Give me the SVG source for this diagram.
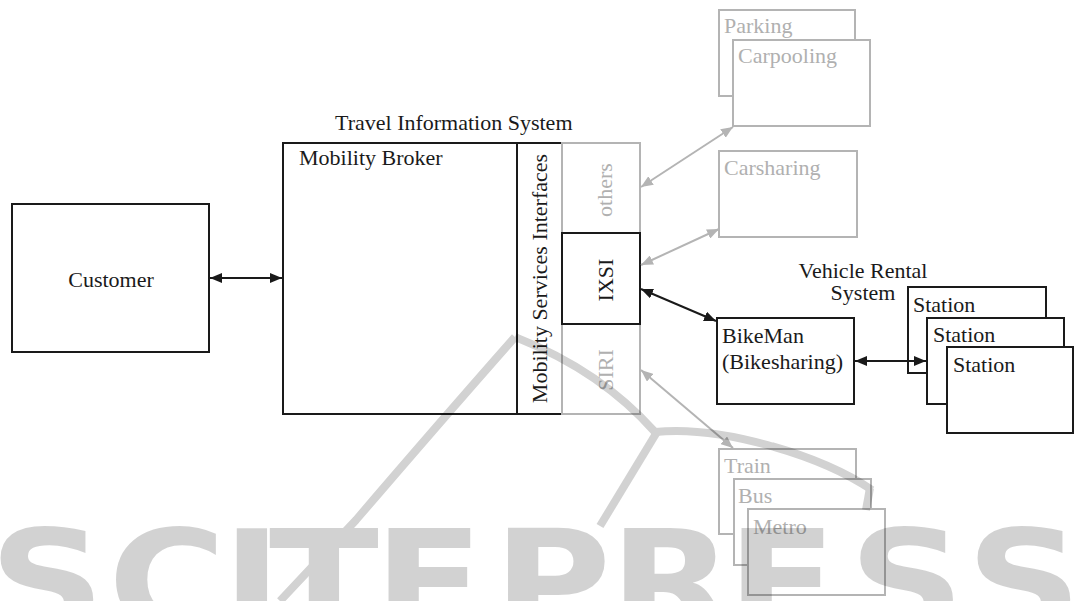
<svg xmlns="http://www.w3.org/2000/svg" width="1074" height="601" viewBox="0 0 1074 601">
  <style>
    .box { fill: #ffffff; stroke: #1a1a1a; stroke-width: 2; }
    .gbox { fill: #ffffff; stroke: #b4b4b4; stroke-width: 2; }
    .open { fill: none; }
    .t { font-family: "Liberation Serif", "Times New Roman", serif; font-size: 22px; fill: #1a1a1a; }
    .gt { font-family: "Liberation Serif", "Times New Roman", serif; font-size: 22px; fill: #b0b0b0; }
    .mid { text-anchor: middle; }
    .link { stroke: #1a1a1a; stroke-width: 2; fill: none; marker-start: url(#headB); marker-end: url(#headB); }
    .glink { stroke: #b4b4b4; stroke-width: 2; fill: none; marker-start: url(#headG); marker-end: url(#headG); }
  </style>
  <defs>
    <marker id="headB" viewBox="0 0 12 10" refX="12" refY="5" markerWidth="12" markerHeight="10" markerUnits="userSpaceOnUse" orient="auto-start-reverse">
      <path d="M0,0 L12,5 L0,10 z" fill="#1a1a1a"/>
    </marker>
    <marker id="headG" viewBox="0 0 12 10" refX="12" refY="5" markerWidth="12" markerHeight="10" markerUnits="userSpaceOnUse" orient="auto-start-reverse">
      <path d="M0,0 L12,5 L0,10 z" fill="#b4b4b4"/>
    </marker>
  </defs>

  <rect width="1074" height="601" fill="#ffffff"/>

  <!-- customer -->
  <g id="customer">
    <rect class="box" x="12" y="204" width="197" height="148"/>
    <text class="t mid" x="111" y="287">Customer</text>
  </g>

  <!-- travel information system -->
  <g id="travel-information-system">
    <text class="t" x="335" y="130">Travel Information System</text>
  </g>
  <g id="mobility-broker">
    <rect class="box" x="283" y="143" width="234" height="271"/>
    <text class="t" x="299" y="165">Mobility Broker</text>
  </g>
  <g id="interfaces">
    <rect class="box" x="517" y="143" width="45" height="271"/>
    <text class="t mid" transform="translate(547,278.5) rotate(-90)">Mobility Services Interfaces</text>
  </g>
  <g id="interface-slots">
    <rect class="gbox open" x="562" y="143" width="78" height="271"/>
    <text class="gt mid" transform="translate(612,190) rotate(-90)">others</text>
    <text class="gt mid" transform="translate(613,370) rotate(-90)">SIRI</text>
  </g>
  <g id="ixsi">
    <rect class="box" x="562" y="233" width="78" height="91"/>
    <text class="t mid" transform="translate(613,280) rotate(-90)">IXSI</text>
  </g>

  <!-- external mobility services -->
  <g id="parking">
    <rect class="gbox" x="719" y="10" width="136" height="86"/>
    <text class="gt" x="724" y="33">Parking</text>
  </g>
  <g id="carpooling">
    <rect class="gbox" x="733" y="40" width="137" height="86"/>
    <text class="gt" x="738" y="63">Carpooling</text>
  </g>
  <g id="carsharing">
    <rect class="gbox" x="719" y="151" width="138" height="86"/>
    <text class="gt" x="724" y="175">Carsharing</text>
  </g>
  <g id="train">
    <rect class="gbox" x="719" y="449" width="137" height="85"/>
    <text class="gt" x="724" y="473">Train</text>
  </g>
  <g id="bus">
    <rect class="gbox" x="734" y="479" width="137" height="86"/>
    <text class="gt" x="738" y="503">Bus</text>
  </g>
  <g id="metro">
    <rect class="gbox" x="748" y="509" width="137" height="86"/>
    <text class="gt" x="753" y="534">Metro</text>
  </g>

  <!-- vehicle rental system -->
  <g id="vehicle-rental-system">
    <text class="t mid" x="863" y="278">Vehicle Rental</text>
    <text class="t mid" x="863" y="300">System</text>
  </g>
  <g id="bikeman">
    <rect class="box" x="717" y="318" width="137" height="86"/>
    <text class="t" x="722" y="343">BikeMan</text>
    <text class="t" x="722" y="369">(Bikesharing)</text>
  </g>
  <g id="station-1">
    <rect class="box" x="908" y="287" width="138" height="86"/>
    <text class="t" x="913" y="312">Station</text>
  </g>
  <g id="station-2">
    <rect class="box" x="927" y="318" width="137" height="86"/>
    <text class="t" x="933" y="342">Station</text>
  </g>
  <g id="station-3">
    <rect class="box" x="947" y="347" width="126" height="86"/>
    <text class="t" x="953" y="372">Station</text>
  </g>

  <!-- connectors -->
  <g id="connectors">
    <line class="link" x1="210" y1="278" x2="282" y2="278"/>
    <line class="link" x1="641" y1="289" x2="716" y2="321"/>
    <line class="link" x1="855" y1="361" x2="926" y2="361"/>
    <line class="glink" x1="641" y1="187" x2="733" y2="127"/>
    <line class="glink" x1="641" y1="265" x2="719" y2="229"/>
    <line class="glink" x1="641" y1="370" x2="733" y2="448"/>
  </g>

  <!-- publisher watermark -->
  <g id="watermark" opacity="0.18">
    <g fill="none" stroke="#000000" stroke-width="8" stroke-linecap="butt">
      <path d="M280 601 L356 520 Q440 422 515 337"/>
      <path d="M515 337 Q600 370 655 432"/>
      <path d="M655 432 C720 425 820 455 872 490"/>
      <path d="M870 488 L866 510"/>
      <path d="M657 432 L600 526"/>
    </g>
    <text transform="scale(1.15,1)" y="631" x="-9.6 94 193 234 325 429 530 632 738 840" font-family="'DejaVu Sans', sans-serif" font-weight="bold" font-size="140" fill="#000000">SCITEPRESS</text>
  </g>
</svg>
